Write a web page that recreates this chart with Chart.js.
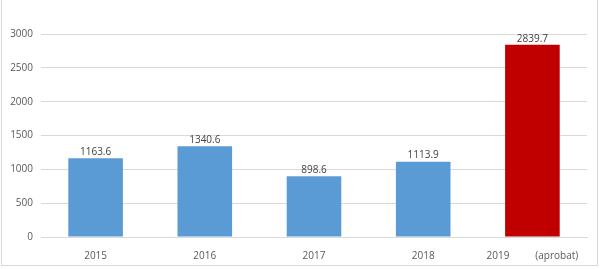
<!DOCTYPE html>
<html>
<head>
<meta charset="utf-8">
<script src="https://cdn.jsdelivr.net/npm/chart.js@4"></script>
<style>
  html, body { margin: 0; padding: 0; background: #fff; }
  #wrap { position: relative; width: 600px; height: 269px; }
  #frame { position: absolute; left: 1px; top: 0; width: 597px; height: 266px; border: 1px solid #d9d9d9; border-top: none; box-sizing: border-box; pointer-events: none; }
</style>
</head>
<body>
<div id="wrap">
  <canvas id="chart" width="600" height="269"></canvas>
  <div id="frame"></div>
</div>
<script>
const categories = ["2015", "2016", "2017", "2018", "2019          (aprobat)"];
const values = [1163.6, 1340.6, 898.6, 1113.9, 2839.7];
const barColors = ["#5B9BD5", "#5B9BD5", "#5B9BD5", "#5B9BD5", "#C00000"];
const yTicks = [0, 500, 1000, 1500, 2000, 2500, 3000];

const FONT = "'Open Sans', 'Liberation Sans', sans-serif";

// draw the values over the bars
const valueLabels = {
  id: "valueLabels",
  afterDatasetsDraw(chart) {
    const ctx = chart.ctx;
    const meta = chart.getDatasetMeta(0);
    ctx.save();
    ctx.font = "10px " + FONT;
    ctx.fillStyle = "#404040";
    ctx.textAlign = "center";
    ctx.textBaseline = "bottom";
    meta.data.forEach((bar, i) => {
      ctx.fillText(values[i].toFixed(1), bar.x, bar.y - 1);
    });
    ctx.restore();
  },
};

new Chart("chart", {
  type: "bar",
  data: {
    labels: categories,
    datasets: [{
      data: values,
      backgroundColor: barColors,
      borderWidth: 0,
      categoryPercentage: 1,
      barPercentage: 0.5,
    }],
  },
  options: {
    responsive: false,
    animation: false,
    layout: { padding: { left: 0, right: 13, top: 34, bottom: 0 } },
    plugins: { legend: { display: false }, tooltip: { enabled: false } },
    scales: {
      x: {
        grid: { display: false },
        border: { color: "#d9d9d9" },
        ticks: { color: "#595959", font: { size: 10, family: FONT }, padding: 5, maxRotation: 0, autoSkip: false },
        afterFit: (scale) => { scale.height = 32; },
      },
      y: {
        min: 0,
        max: 3000,
        afterBuildTicks: (scale) => { scale.ticks = yTicks.map((v) => ({ value: v })); },
        grid: { color: "#d9d9d9", drawTicks: false },
        border: { display: false },
        ticks: { color: "#595959", font: { size: 10, family: FONT }, padding: 8, callback: (v) => String(v) },
        afterFit: (scale) => { scale.width = 41; },
      },
    },
  },
  plugins: [valueLabels],
});
</script>
</body>
</html>
